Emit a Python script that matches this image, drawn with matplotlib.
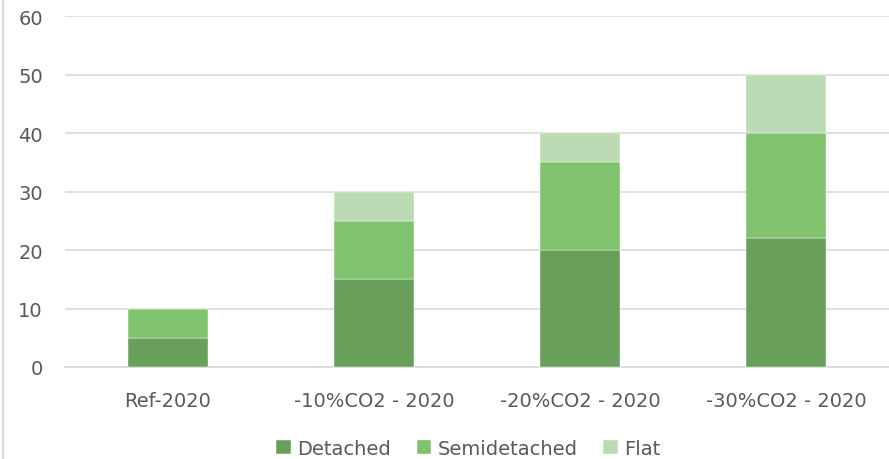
import matplotlib.pyplot as plt
import numpy as np

scenarios = ['Ref-2020', '-10%CO2 - 2020', '-20%CO2 - 2020', '-30%CO2 - 2020']
detached = [5, 15, 20, 22]
semidetached = [5, 10, 15, 18]
flat = [0, 5, 5, 10]

series = [('Detached', detached, '#68a05b'),
          ('Semidetached', semidetached, '#80c26d'),
          ('Flat', flat, '#bcdbb4')]

text_color = '#595959'
plt.rcParams['font.family'] = 'DejaVu Sans'

fig = plt.figure(figsize=(8.89, 4.6), dpi=100)
ax = fig.add_axes([0.0731, 0.2, 0.9269, 0.763])

x = np.arange(len(scenarios))
bottom = np.zeros(len(scenarios))
for name, vals, col in series:
    ax.bar(x, vals, width=0.393, bottom=bottom, color=col, label=name,
           edgecolor='white', linewidth=0.3, zorder=3)
    bottom += np.array(vals)

ax.set_xlim(-0.5, len(scenarios) - 0.5)
ax.set_ylim(0, 60)
ax.set_yticks(range(0, 61, 10))
ax.yaxis.grid(True, color='#d9d9d9', linewidth=1.2, zorder=0)
ax.set_xticks(x)
ax.set_xticklabels(scenarios)
ax.tick_params(axis='both', length=0, labelsize=14, colors=text_color)
ax.tick_params(axis='y', pad=16)
ax.tick_params(axis='x', pad=17)
for side in ['top', 'right', 'left']:
    ax.spines[side].set_visible(False)
ax.spines['bottom'].set_color('#d9d9d9')
ax.spines['bottom'].set_linewidth(1.2)

fig.legend(loc='lower center', ncol=3, frameon=False, fontsize=14,
           labelcolor=text_color, handlelength=0.75, handleheight=0.75,
           handletextpad=0.35, columnspacing=1.3, bbox_to_anchor=(0.527, -0.035))

# thin frame line on the left edge
fig.add_artist(plt.Line2D([0.003, 0.003], [0, 1], color='#d9d9d9', linewidth=1.5))

fig.savefig('out.png', dpi=100)
